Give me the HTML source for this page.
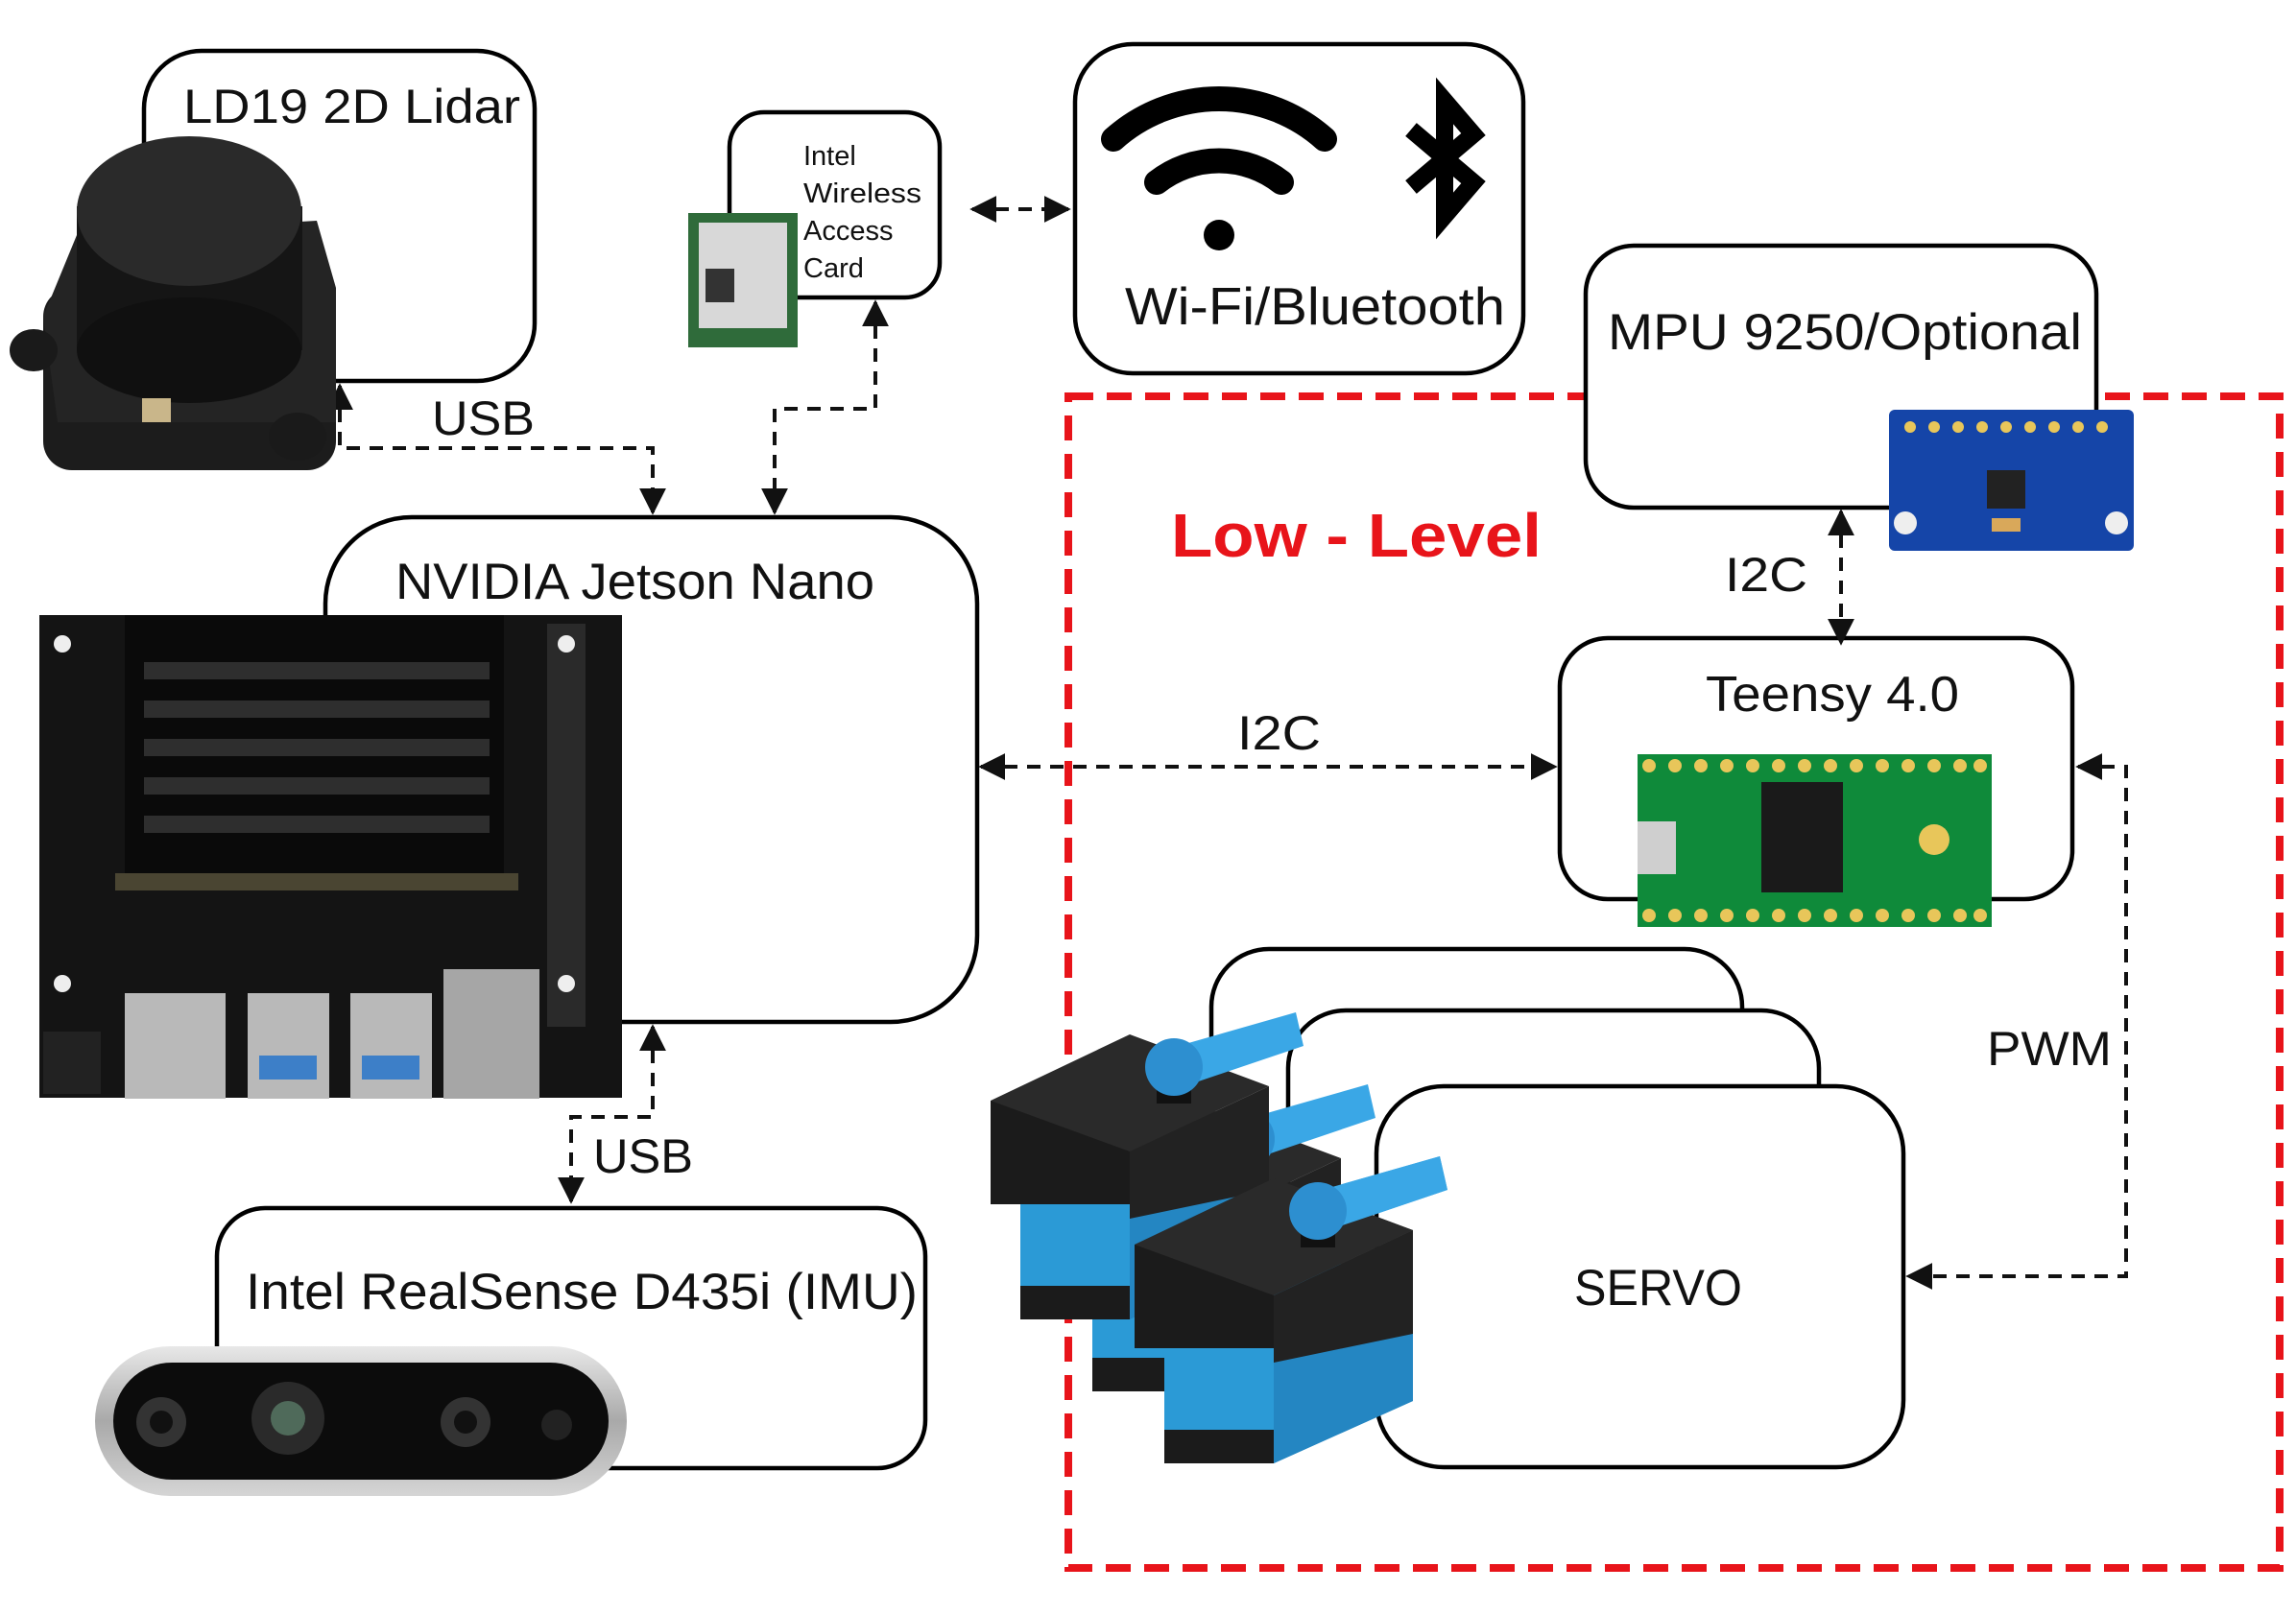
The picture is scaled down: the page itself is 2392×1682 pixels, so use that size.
<!DOCTYPE html>
<html><head><meta charset="utf-8"><style>
html,body{margin:0;padding:0;background:#fff}
svg{display:block}
text{font-family:"Liberation Sans",sans-serif;fill:#111}
</style></head><body>
<svg width="2392" height="1682" viewBox="0 0 2392 1682" xmlns="http://www.w3.org/2000/svg">
<defs>
<marker id="ah" viewBox="0 0 10 10" refX="9" refY="5" markerWidth="7" markerHeight="7" orient="auto-start-reverse"><path d="M0,0 L10,5 L0,10 z" fill="#111"/></marker>
<linearGradient id="silver" x1="0" y1="0" x2="0" y2="1"><stop offset="0" stop-color="#e8e8e8"/><stop offset="0.5" stop-color="#a9a9a9"/><stop offset="1" stop-color="#d5d5d5"/></linearGradient>
</defs>

<rect x="1113" y="413" width="1262" height="1221" fill="none" stroke="#e8141a" stroke-width="8" stroke-dasharray="26,14"/>
<text x="1220" y="580" font-size="64" font-weight="bold" style="fill:#e8141a" textLength="386" lengthAdjust="spacingAndGlyphs">Low - Level</text>

<g fill="#fff" stroke="#000" stroke-width="4.5">
<rect x="150" y="53" width="407" height="344" rx="60"/>
<rect x="760" y="117" width="219" height="193" rx="36"/>
<rect x="1120" y="46" width="467" height="343" rx="60"/>
<rect x="339" y="539" width="679" height="526" rx="90"/>
<rect x="226" y="1259" width="738" height="271" rx="50"/>
<rect x="1652" y="256" width="532" height="273" rx="50"/>
<rect x="1625" y="665" width="534" height="272" rx="50"/>
<rect x="1262" y="989" width="553" height="300" rx="60"/>
<rect x="1342" y="1053" width="553" height="300" rx="60"/>
<rect x="1434" y="1132" width="549" height="397" rx="70"/>
</g>

<g fill="none" stroke="#111" stroke-width="4" stroke-dasharray="14,10">
<path d="M354,402 V467 H680 V534" marker-start="url(#ah)" marker-end="url(#ah)"/>
<path d="M912,315 V426 H807 V534" marker-start="url(#ah)" marker-end="url(#ah)"/>
<path d="M1013,218 H1113" marker-start="url(#ah)" marker-end="url(#ah)"/>
<path d="M680,1070 V1164 H595 V1252" marker-start="url(#ah)" marker-end="url(#ah)"/>
<path d="M1022,799 H1620" marker-start="url(#ah)" marker-end="url(#ah)"/>
<path d="M1918,533 V670" marker-start="url(#ah)" marker-end="url(#ah)"/>
<path d="M2165,799 H2215 V1330 H1988" marker-start="url(#ah)" marker-end="url(#ah)"/>
</g>

<text x="191" y="128" font-size="50" textLength="351" lengthAdjust="spacingAndGlyphs">LD19 2D Lidar</text>
<text x="450" y="453" font-size="50" textLength="107" lengthAdjust="spacingAndGlyphs">USB</text>
<text x="837" y="172" font-size="29">Intel</text>
<text x="837" y="211" font-size="29" textLength="123" lengthAdjust="spacingAndGlyphs">Wireless</text>
<text x="837" y="250" font-size="29">Access</text>
<text x="837" y="289" font-size="29">Card</text>
<text x="1172" y="338" font-size="55" textLength="396" lengthAdjust="spacingAndGlyphs">Wi-Fi/Bluetooth</text>
<text x="412" y="624" font-size="53" textLength="499" lengthAdjust="spacingAndGlyphs">NVIDIA Jetson Nano</text>
<text x="618" y="1222" font-size="50" textLength="104" lengthAdjust="spacingAndGlyphs">USB</text>
<text x="256" y="1364" font-size="53" textLength="700" lengthAdjust="spacingAndGlyphs">Intel RealSense D435i (IMU)</text>
<text x="1675" y="364" font-size="53" textLength="494" lengthAdjust="spacingAndGlyphs">MPU 9250/Optional</text>
<text x="1797" y="616" font-size="50" textLength="86" lengthAdjust="spacingAndGlyphs">I2C</text>
<text x="1777" y="741" font-size="52" textLength="264" lengthAdjust="spacingAndGlyphs">Teensy 4.0</text>
<text x="1289" y="781" font-size="50" textLength="87" lengthAdjust="spacingAndGlyphs">I2C</text>
<text x="2070" y="1110" font-size="50" textLength="130" lengthAdjust="spacingAndGlyphs">PWM</text>
<text x="1640" y="1360" font-size="53" textLength="175" lengthAdjust="spacingAndGlyphs">SERVO</text>

<g fill="none" stroke="#000" stroke-width="26" stroke-linecap="round">
<path d="M1160,145 A165,165 0 0 1 1380,145"/>
<path d="M1205,190 A105,105 0 0 1 1335,190"/>
</g>
<circle cx="1270" cy="245" r="16" fill="#000"/>
<path d="M1470,135 L1535,190 L1505,225 V105 L1535,140 L1470,195" fill="none" stroke="#000" stroke-width="18"/>

<g>
<rect x="45" y="300" width="305" height="190" rx="30" fill="#1c1c1c"/>
<path d="M80,245 L330,230 L350,300 L350,440 L60,440 L45,330 Z" fill="#242424"/>
<ellipse cx="35" cy="365" rx="25" ry="22" fill="#1a1a1a"/>
<ellipse cx="310" cy="455" rx="30" ry="25" fill="#1a1a1a"/>
<rect x="80" y="215" width="235" height="150" fill="#151515"/>
<ellipse cx="197" cy="365" rx="117" ry="55" fill="#101010"/>
<ellipse cx="197" cy="220" rx="117" ry="78" fill="#2a2a2a"/>
<rect x="148" y="415" width="30" height="25" fill="#c9b68a"/>
</g>

<rect x="717" y="222" width="114" height="140" fill="#2f6b3a"/>
<rect x="728" y="232" width="92" height="110" fill="#d8d8d8"/>
<rect x="735" y="280" width="30" height="35" fill="#333"/>

<g>
<rect x="41" y="641" width="607" height="503" fill="#141414"/>
<rect x="130" y="641" width="395" height="280" fill="#0a0a0a"/>
<g fill="#2e2e2e"><rect x="150" y="690" width="360" height="18"/><rect x="150" y="730" width="360" height="18"/><rect x="150" y="770" width="360" height="18"/><rect x="150" y="810" width="360" height="18"/><rect x="150" y="850" width="360" height="18"/></g>
<rect x="120" y="910" width="420" height="18" fill="#4a4532"/>
<rect x="570" y="650" width="40" height="420" fill="#2a2a2a"/>
<g fill="#b9b9b9"><rect x="130" y="1035" width="105" height="110"/><rect x="258" y="1035" width="85" height="110"/><rect x="365" y="1035" width="85" height="110"/><rect x="462" y="1010" width="100" height="135" fill="#a6a6a6"/></g>
<g fill="#3d7fc8"><rect x="270" y="1100" width="60" height="25"/><rect x="377" y="1100" width="60" height="25"/></g>
<rect x="45" y="1075" width="60" height="65" fill="#222"/>
<circle cx="65" cy="671" r="9" fill="#eee"/><circle cx="590" cy="671" r="9" fill="#eee"/><circle cx="65" cy="1025" r="9" fill="#eee"/><circle cx="590" cy="1025" r="9" fill="#eee"/>
</g>

<rect x="99" y="1403" width="554" height="156" rx="78" fill="url(#silver)"/>
<rect x="118" y="1420" width="516" height="122" rx="61" fill="#0c0c0c"/>
<circle cx="168" cy="1482" r="26" fill="#333"/><circle cx="168" cy="1482" r="12" fill="#111"/>
<circle cx="300" cy="1478" r="38" fill="#2a2a2a"/><circle cx="300" cy="1478" r="18" fill="#4f6a5a"/>
<circle cx="485" cy="1482" r="26" fill="#333"/><circle cx="485" cy="1482" r="12" fill="#111"/>
<circle cx="580" cy="1485" r="16" fill="#222"/>

<rect x="1968" y="427" width="255" height="147" rx="6" fill="#1545a8"/>
<g fill="#e8c65a"><circle cx="1990" cy="445" r="6"/><circle cx="2015" cy="445" r="6"/><circle cx="2040" cy="445" r="6"/><circle cx="2065" cy="445" r="6"/><circle cx="2090" cy="445" r="6"/><circle cx="2115" cy="445" r="6"/><circle cx="2140" cy="445" r="6"/><circle cx="2165" cy="445" r="6"/><circle cx="2190" cy="445" r="6"/></g>
<circle cx="1985" cy="545" r="12" fill="#eee"/><circle cx="2205" cy="545" r="12" fill="#eee"/>
<rect x="2070" y="490" width="40" height="40" fill="#222"/>
<rect x="2075" y="540" width="30" height="14" fill="#d9a85a"/>

<rect x="1706" y="786" width="369" height="180" fill="#0f8a3a"/>
<rect x="1706" y="856" width="40" height="55" fill="#cfcfcf"/>
<rect x="1835" y="815" width="85" height="115" fill="#1a1a1a"/>
<g fill="#e8c65a">
<circle cx="1718" cy="798" r="7"/><circle cx="1745" cy="798" r="7"/><circle cx="1772" cy="798" r="7"/><circle cx="1799" cy="798" r="7"/><circle cx="1826" cy="798" r="7"/><circle cx="1853" cy="798" r="7"/><circle cx="1880" cy="798" r="7"/><circle cx="1907" cy="798" r="7"/><circle cx="1934" cy="798" r="7"/><circle cx="1961" cy="798" r="7"/><circle cx="1988" cy="798" r="7"/><circle cx="2015" cy="798" r="7"/><circle cx="2042" cy="798" r="7"/><circle cx="2063" cy="798" r="7"/>
<circle cx="1718" cy="954" r="7"/><circle cx="1745" cy="954" r="7"/><circle cx="1772" cy="954" r="7"/><circle cx="1799" cy="954" r="7"/><circle cx="1826" cy="954" r="7"/><circle cx="1853" cy="954" r="7"/><circle cx="1880" cy="954" r="7"/><circle cx="1907" cy="954" r="7"/><circle cx="1934" cy="954" r="7"/><circle cx="1961" cy="954" r="7"/><circle cx="1988" cy="954" r="7"/><circle cx="2015" cy="954" r="7"/><circle cx="2042" cy="954" r="7"/><circle cx="2063" cy="954" r="7"/>
<circle cx="2015" cy="875" r="16"/>
</g>

<!-- servos -->
<g id="sv">
<path d="M1213,1373 H1327 V1525 H1213 Z" fill="#2b9ad6"/>
<path d="M1327,1420 L1472,1352 L1472,1460 L1327,1525 Z" fill="#2486c2"/>
<rect x="1213" y="1490" width="114" height="35" fill="#1b1b1b"/>
<path d="M1182,1297 H1327 V1405 H1182 Z" fill="#1b1b1b"/>
<path d="M1327,1350 L1472,1282 L1472,1390 L1327,1420 Z" fill="#222"/>
<path d="M1182,1297 L1327,1228 L1472,1282 L1327,1350 Z" fill="#2a2a2a"/>
<rect x="1355" y="1250" width="36" height="50" fill="#111"/>
<path d="M1360,1245 L1500,1205 L1508,1240 L1375,1285 Z" fill="#3aa7e6"/>
<circle cx="1373" cy="1262" r="30" fill="#2d8fd0"/>
</g>
<use href="#sv" x="-75" y="-75"/>
<use href="#sv" x="-150" y="-150"/>
<use href="#sv"/>
</svg>
</body></html>
